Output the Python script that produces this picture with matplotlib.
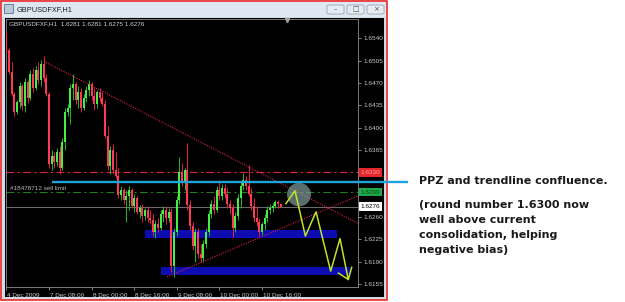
import matplotlib
matplotlib.use("Agg")
import matplotlib.pyplot as plt
import matplotlib.transforms as mtransforms
from matplotlib.patches import Rectangle, Ellipse, FancyBboxPatch

plt.rcParams['font.family'] = ['Liberation Sans', 'DejaVu Sans']

# ---- data (GBPUSD H1, 4-10 Dec 2009) ----
symbol = "GBPUSDFXF,H1"
last_quote = "1.6281 1.6281 1.6275 1.6276"

opens = [1.6545, 1.6522, 1.6487, 1.6453, 1.6424, 1.6440, 1.6465, 1.6434, 1.6471, 1.6446,
         1.6484, 1.6462, 1.6490, 1.6475, 1.6500, 1.6478, 1.6453, 1.6343, 1.6355, 1.6346,
         1.6362, 1.6337, 1.6377, 1.6424, 1.6431, 1.6462, 1.6468, 1.6443, 1.6456, 1.6431,
         1.6446, 1.6459, 1.6468, 1.6450, 1.6437, 1.6456, 1.6446, 1.6437, 1.6387, 1.6340,
         1.6365, 1.6334, 1.6324, 1.6294, 1.6302, 1.6287, 1.6293, 1.6302, 1.6277, 1.6290,
         1.6268, 1.6274, 1.6261, 1.6271, 1.6258, 1.6255, 1.6236, 1.6249, 1.6243, 1.6265,
         1.6271, 1.6258, 1.6268, 1.6183, 1.6236, 1.6287, 1.6330, 1.6313, 1.6334, 1.6279,
         1.6246, 1.6214, 1.6236, 1.6202, 1.6196, 1.6218, 1.6236, 1.6265, 1.6280, 1.6271,
         1.6302, 1.6293, 1.6305, 1.6296, 1.6280, 1.6274, 1.6243, 1.6261, 1.6290, 1.6308,
         1.6318, 1.6308, 1.6296, 1.6277, 1.6258, 1.6252, 1.6236, 1.6249, 1.6258, 1.6271,
         1.6274, 1.6277, 1.6283, 1.6281]
highs = [1.6551, 1.6525, 1.6503, 1.6456, 1.6443, 1.6471, 1.6468, 1.6478, 1.6475, 1.6490,
         1.6493, 1.6497, 1.6503, 1.6506, 1.6512, 1.6484, 1.6456, 1.6365, 1.6362, 1.6368,
         1.6371, 1.6384, 1.6431, 1.6437, 1.6468, 1.6484, 1.6471, 1.6465, 1.6462, 1.6453,
         1.6465, 1.6475, 1.6471, 1.6462, 1.6459, 1.6462, 1.6456, 1.6443, 1.6403, 1.6371,
         1.6374, 1.6362, 1.6337, 1.6308, 1.6305, 1.6302, 1.6308, 1.6305, 1.6296, 1.6293,
         1.6279, 1.6280, 1.6274, 1.6277, 1.6271, 1.6265, 1.6255, 1.6258, 1.6271, 1.6277,
         1.6277, 1.6274, 1.6274, 1.6243, 1.6293, 1.6354, 1.6345, 1.6337, 1.6376, 1.6287,
         1.6252, 1.6243, 1.6243, 1.6218, 1.6224, 1.6243, 1.6271, 1.6287, 1.6293, 1.6308,
         1.6318, 1.6312, 1.6312, 1.6305, 1.6287, 1.6280, 1.6268, 1.6296, 1.6315, 1.6329,
         1.6324, 1.6341, 1.6305, 1.6290, 1.6277, 1.6258, 1.6252, 1.6265, 1.6277, 1.6280,
         1.6282, 1.6287, 1.6287, 1.6281]
lows = [1.6518, 1.6484, 1.6450, 1.6418, 1.6421, 1.6431, 1.6428, 1.6424, 1.6439, 1.6443,
        1.6456, 1.6459, 1.6468, 1.6465, 1.6471, 1.6450, 1.6337, 1.6334, 1.6337, 1.6340,
        1.6327, 1.6334, 1.6365, 1.6418, 1.6406, 1.6443, 1.6437, 1.6431, 1.6424, 1.6428,
        1.6440, 1.6450, 1.6443, 1.6428, 1.6431, 1.6440, 1.6434, 1.6384, 1.6334, 1.6327,
        1.6327, 1.6321, 1.6290, 1.6287, 1.6280, 1.6252, 1.6271, 1.6274, 1.6268, 1.6265,
        1.6258, 1.6252, 1.6255, 1.6252, 1.6249, 1.6230, 1.6227, 1.6236, 1.6240, 1.6252,
        1.6249, 1.6252, 1.6174, 1.6166, 1.6230, 1.6280, 1.6308, 1.6302, 1.6271, 1.6240,
        1.6208, 1.6189, 1.6196, 1.6189, 1.6189, 1.6211, 1.6230, 1.6258, 1.6265, 1.6268,
        1.6287, 1.6287, 1.6290, 1.6274, 1.6265, 1.6229, 1.6236, 1.6255, 1.6274, 1.6302,
        1.6302, 1.6293, 1.6271, 1.6252, 1.6246, 1.6230, 1.6232, 1.6240, 1.6252, 1.6265,
        1.6268, 1.6274, 1.6274, 1.6275]
closes = [1.6522, 1.6487, 1.6453, 1.6424, 1.6440, 1.6465, 1.6434, 1.6471, 1.6446, 1.6484,
          1.6462, 1.6490, 1.6475, 1.6500, 1.6478, 1.6453, 1.6343, 1.6355, 1.6346, 1.6362,
          1.6337, 1.6377, 1.6424, 1.6431, 1.6462, 1.6468, 1.6443, 1.6456, 1.6431, 1.6446,
          1.6459, 1.6468, 1.6450, 1.6437, 1.6456, 1.6446, 1.6437, 1.6387, 1.6340, 1.6365,
          1.6334, 1.6324, 1.6294, 1.6302, 1.6287, 1.6293, 1.6302, 1.6277, 1.6290, 1.6268,
          1.6274, 1.6261, 1.6271, 1.6258, 1.6255, 1.6236, 1.6249, 1.6243, 1.6265, 1.6271,
          1.6258, 1.6268, 1.6183, 1.6236, 1.6287, 1.6330, 1.6313, 1.6334, 1.6279, 1.6246,
          1.6214, 1.6236, 1.6202, 1.6196, 1.6218, 1.6236, 1.6265, 1.6280, 1.6271, 1.6302,
          1.6293, 1.6305, 1.6296, 1.6280, 1.6274, 1.6243, 1.6261, 1.6290, 1.6308, 1.6318,
          1.6308, 1.6296, 1.6277, 1.6258, 1.6252, 1.6236, 1.6249, 1.6258, 1.6271, 1.6274,
          1.6277, 1.6283, 1.6281, 1.6276]

time_ticks = [0, 16, 32, 48, 64, 80, 96]
time_labels = ["4 Dec 2009", "7 Dec 08:00", "8 Dec 00:00", "8 Dec 16:00",
               "9 Dec 08:00", "10 Dec 00:00", "10 Dec 16:00"]
price_ticks = [1.6540, 1.6505, 1.6470, 1.6435, 1.6400, 1.6365, 1.6260, 1.6225, 1.6190, 1.6155]

resistance = 1.6330
sell_limit = 1.6299
current = 1.6276
order_text = "#18478712 sell limit"

# trend lines (bar index, price)
down_bars, down_prices = [14.1, 132.0], [1.6504, 1.6250]
up_bars, up_prices = [60.3, 132.0], [1.6166, 1.6293]

# support zones: bar from, bar to, price low, price high
zone_hi = (52.1, 124.2, 1.6227, 1.6240)
zone_lo = (58.1, 129.1, 1.6169, 1.6181)

# projected path
zz_bars = [105.0, 108.4, 112.3, 116.3, 121.8, 125.3, 128.4, 129.7]
zz_prices = [1.6281, 1.6301, 1.6230, 1.6268, 1.6175, 1.6226, 1.6162, 1.6181]
barb_bars, barb_prices = [124.7, 128.4], [1.6172, 1.6162]

ppz_center = (109.9, 1.6295)
pointer_bars, pointer_level = [17.1, 150.8], 1.6314

note_title = "PPZ and trendline confluence."
note_lines = ["(round number 1.6300 now", "well above current",
              "consolidation, helping", "negative bias)"]

# ---- figure ----
W, H = 625, 302
fig = plt.figure(figsize=(W / 100, H / 100), dpi=100, facecolor="white")


def fx(x):
    return x / W


def fy(y):
    return 1 - y / H


def box(x, y, w, h, **kw):
    kw.setdefault("zorder", -1)
    fig.add_artist(Rectangle((fx(x), fy(y + h)), w / W, h / H,
                             transform=fig.transFigure, **kw))


# window chrome
box(0, 0, 387, 300, facecolor="#d2dbe7", edgecolor="none")
box(1, 1, 385, 16, facecolor="#dfe7f1", edgecolor="none")
box(5, 18, 379, 279, facecolor="black", edgecolor="none")
box(0.5, 0.5, 386, 299.5, fill=False, edgecolor="#ee2a2a", linewidth=1.2)
box(4, 4, 9, 9, facecolor="#b9c9dc", edgecolor="#5c7290", linewidth=0.6)
fig.text(fx(17), fy(9.5), symbol, fontsize=5.3, color="#202020", va="center")
for bx, glyph in zip([327, 347, 367], ["\u2013", "\u25a1", "\u00d7"]):
    fig.add_artist(FancyBboxPatch((fx(bx), fy(14)), 17 / W, 9 / H,
                                  boxstyle="round,pad=0,rounding_size=0.004",
                                  transform=fig.transFigure, zorder=-1,
                                  facecolor="#e7ecf2", edgecolor="#97a5b5", linewidth=0.6))
    fig.text(fx(bx + 8.5), fy(9.5), glyph, fontsize=5, color="#4a4a4a",
             ha="center", va="center", family="DejaVu Sans")

ax = fig.add_axes([fx(6), fy(287), 352 / W, 268 / H])
ax.set_facecolor("black")
ax.set_xlim(-0.15, 132.06)
ax.set_ylim(1.61502, 1.65702)

# zones
for b0, b1, p0, p1 in [zone_hi, zone_lo]:
    ax.add_patch(Rectangle((b0, p0), b1 - b0, p1 - p0, facecolor="#0c0cb0",
                           edgecolor="none", zorder=1))

# levels
ax.axhline(resistance, color="#e0204a", lw=0.8, ls=(0, (7, 3, 2, 3)), zorder=2)
ax.axhline(sell_limit, color="#1f7d1f", lw=0.8, ls=(0, (7, 3, 2, 3)), zorder=2)
ax.axhline(current, color="#808080", lw=0.6, zorder=2)

# candles
xs = list(range(len(closes)))
bull = [c >= o for o, c in zip(opens, closes)]
body_c = ["#45ee45" if b else "#ff3a58" for b in bull]
wick_c = ["#22b822" if b else "#e8203e" for b in bull]
ax.vlines(xs, lows, highs, colors=wick_c, lw=0.7, zorder=3)
ax.bar(xs, [max(abs(c - o), 0.00008) for o, c in zip(opens, closes)],
       bottom=[min(o, c) for o, c in zip(opens, closes)],
       width=0.75, color=body_c, linewidth=0, zorder=4)

# trend lines
ax.plot(down_bars, down_prices, color="#e0204a", lw=0.8, ls=(0, (1, 1.2)), zorder=5)
ax.plot(up_bars, up_prices, color="#e0204a", lw=0.8, ls=(0, (1, 1.2)), zorder=5)

# PPZ marker and projected path
ax.add_patch(Ellipse(ppz_center, 9.0, 0.0037, facecolor="#8aa8a8", alpha=0.65,
                     edgecolor="none", zorder=6))
ax.plot(zz_bars, zz_prices, color="#c0e22c", lw=1.1, zorder=7)
ax.plot(barb_bars, barb_prices, color="#c0e22c", lw=1.1, zorder=7)

# pointer from the note to the chart
ax.plot(pointer_bars, [pointer_level] * 2, color="#1fa3dc", lw=1.7,
        solid_capstyle="butt", clip_on=False, zorder=9)

# axes styling
for s in ax.spines.values():
    s.set_color("#8c8c8c")
    s.set_linewidth(0.6)
ax.yaxis.tick_right()
ax.set_yticks(price_ticks)
ax.set_yticklabels([f"{p:.4f}" for p in price_ticks])
ax.set_xticks(time_ticks)
ax.set_xticklabels(time_labels)
ax.tick_params(axis="both", colors="#9a9a9a", labelcolor="#c8c8c8",
               labelsize=4.6, length=2.5, width=0.6, pad=1.5)
offset = mtransforms.ScaledTranslation(1 / 100, 0, fig.dpi_scale_trans)
for lab in ax.get_xticklabels():
    lab.set_horizontalalignment("left")
    lab.set_transform(lab.get_transform() + offset)

# price boxes on the scale
tb = mtransforms.blended_transform_factory(ax.transAxes, ax.transData)
for level, txt, fc, tc in [(resistance, f"{resistance:.4f}", "#e8242c", "#ffa8a8"),
                           (sell_limit, f"{sell_limit:.4f}", "#1ea84c", "#0b4a1c"),
                           (current, f"{current:.4f}", "white", "black")]:
    ax.text(1.008, level, txt, transform=tb, fontsize=4.6, color=tc, ha="left",
            va="center", clip_on=False, zorder=8,
            bbox=dict(boxstyle="square,pad=0.3", facecolor=fc, edgecolor="none"))

ax.text(0.0085, 0.981, f"{symbol}  {last_quote}", transform=ax.transAxes,
        fontsize=4.6, color="#d0d0d0", va="center", ha="left")
ax.text(0.011, 1.6305, order_text, transform=tb, fontsize=4.6, color="#b8b8b8",
        va="center", ha="left")
ax.plot([0.798], [0.997], marker="v", color="#a0a0a0", markersize=3,
        transform=ax.transAxes, clip_on=False, zorder=9)

# note text
fig.text(fx(419), fy(184), note_title, fontsize=8, fontweight="bold",
         family="DejaVu Sans", color="#1a1a1a", va="baseline")
for k, line in enumerate(note_lines):
    fig.text(fx(419), fy(207.5 + 15.2 * k), line, fontsize=8, fontweight="bold",
             family="DejaVu Sans", color="#1a1a1a", va="baseline")

fig.savefig("out.png", dpi=100, facecolor="white")
